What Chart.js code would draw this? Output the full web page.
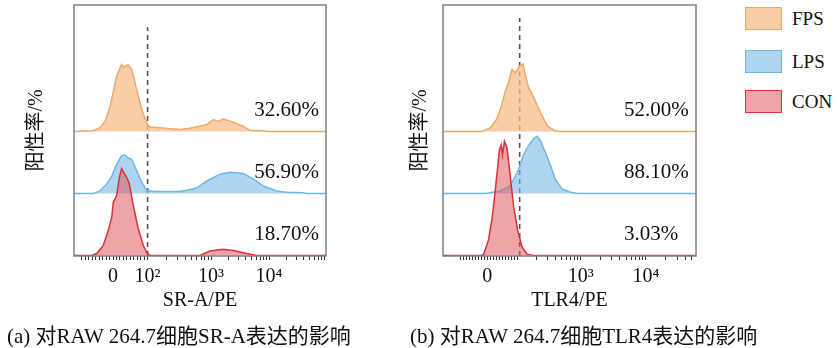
<!DOCTYPE html>
<html lang="zh">
<head>
<meta charset="UTF-8">
<title>SR-A / TLR4</title>
<script src="https://cdn.jsdelivr.net/npm/chart.js"></script>
<style>
  body { margin: 0; background: #fff; width: 838px; height: 348px; position: relative; overflow: hidden; }
  .panel { position: absolute; top: 0; height: 320px; }
  #panelA { left: 0; width: 370px; }
  #panelB { left: 384px; width: 356px; }
  .caption { position: absolute; top: 319px; font: 21px "Liberation Serif", "Noto Sans CJK SC", serif; color: #111; white-space: nowrap; }
  .legend { position: absolute; left: 745px; font: 19px "Liberation Serif", serif; color: #111; }
  .legend .box { position: absolute; left: 0; width: 35px; height: 21px; }
  .legend .lbl { position: absolute; left: 47px; line-height: 23px; }
</style>
</head>
<body>
<div class="panel" id="panelA"><canvas id="chartA"></canvas></div>
<div class="panel" id="panelB"><canvas id="chartB"></canvas></div>
<div class="caption" style="left:7px">(a) 对RAW 264.7细胞SR-A表达的影响</div>
<div class="caption" style="left:410px">(b) 对RAW 264.7细胞TLR4表达的影响</div>
<div class="legend" id="legend"></div>

<script>
// ======= Datos =======
const grupos = ['FPS', 'LPS', 'CON'];
const porcentajesA = ['32.60%', '56.90%', '18.70%'];
const porcentajesB = ['52.00%', '88.10%', '3.03%'];

// posiciones de las marcas (unidades del eje 0-100) y sus etiquetas
const marcasA = [15.5, 29.2, 54.4, 77.4];
const etiquetasA = ['0', '10²', '10³', '10⁴'];
const marcasB = [17.5, 29.4, 54.4, 80.2];
const etiquetasB = ['0', '', '10³', '10⁴'];
const umbralA = 29.2;
const umbralB = 30.3;

// histogramas SR-A/PE
const fpsAx = [0, 7.5, 10.3, 12.3, 14.3, 15.5, 16.9, 18.9, 19.6, 20.2, 21.5, 22.9, 24.9, 26.9, 29.1, 30.2, 36.1, 42.1, 46.0, 52.7, 55.3, 57.3, 59.2, 63.2, 67.2, 69.8, 77.8, 100];
const fpsAy = [0, 1, 6, 16, 40, 62, 89, 108, 104, 105, 108, 100, 67, 35, 11, 7, 5, 3, 5, 11, 19, 16, 20, 15, 8, 2, 0, 0];
const lpsAx = [0, 7.7, 10.3, 13.0, 15.0, 16.9, 18.9, 20.2, 21.5, 22.9, 24.9, 26.9, 28.8, 31.5, 38.1, 42.1, 47.3, 49.2, 52.7, 57.9, 61.9, 67.2, 71.2, 75.1, 80.4, 84.4, 91.0, 92.3, 100];
const lpsAy = [0, 0, 4, 15, 28, 47, 61, 62, 57, 55, 36, 18, 5, 3, 3, 3, 7, 10, 20, 31, 34, 32, 23, 12, 4, 2, 1, 0, 0];
const conAx = [0, 7, 9.0, 11.6, 13.6, 15.0, 15.6, 16.9, 18.0, 18.9, 20.0, 20.9, 21.9, 23.5, 25.5, 27.5, 29.1, 30.2, 50.0, 54.0, 59.2, 63.2, 68.5, 72.5, 100];
const conAy = [0, 0, 3, 16, 40, 62, 86, 96, 126, 140, 132, 126, 116, 81, 43, 16, 3, 0, 0, 7, 10, 8, 3, 0, 0];

// histogramas TLR4/PE
const fpsBx = [0, 15, 16.0, 18.7, 21.3, 23.3, 24.6, 25.9, 27.3, 28.6, 30.3, 31.6, 32.5, 33.8, 35.8, 38.5, 41.2, 44.4, 46, 100];
const fpsBy = [0, 0, 1, 6, 20, 44, 65, 79, 100, 95, 106, 109, 92, 71, 55, 31, 9, 1, 0, 0];
const lpsBx = [0, 17, 18.7, 22.6, 26.6, 29.9, 31.9, 33.8, 35.8, 37.2, 38.5, 40.5, 42.5, 44.4, 47.1, 50.4, 53.1, 100];
const lpsBy = [0, 0, 1, 4, 12, 39, 63, 77, 88, 92, 85, 66, 45, 23, 7, 2, 0, 0];
const conBx = [0, 15, 16.0, 18.0, 19.3, 20.4, 21.5, 22.3, 23.0, 23.5, 24.3, 25.3, 26.6, 27.9, 29.5, 31.2, 33.2, 35.7, 100];
const conBy = [0, 0, 1, 25, 57, 95, 138, 170, 178, 162, 184, 173, 127, 79, 41, 14, 2, 0, 0];

// ======= Estilos =======
const colores = {
    FPS: { borde: '#F0A868', relleno: 'rgba(245,190,140,0.75)' },
    LPS: { borde: '#72B6E4', relleno: 'rgba(120,185,230,0.6)' },
    CON: { borde: '#D8323A', relleno: 'rgba(225,90,95,0.55)' }
};
const desplazamiento = { FPS: 200, LPS: 100, CON: 0 };
const serif = '"Liberation Serif", "Times New Roman", "Noto Sans CJK SC", serif';

function crearDataset(grupo, xs, ys) {
    const base = desplazamiento[grupo];
    return {
        label: grupo,
        data: xs.map((x, i) => ({ x: x, y: base + ys[i] })),
        borderColor: colores[grupo].borde,
        backgroundColor: colores[grupo].relleno,
        borderWidth: 1.5,
        pointRadius: 0,
        tension: 0,
        fill: { value: base }
    };
}

function crearMarcas(pos) {
    // pos: [0, 10^2, 10^3, 10^4]
    const valores = [];
    const lin = (pos[1] - pos[0]) / 10;
    for (let m = -9; m <= 9; m++) valores.push(pos[0] + m * lin);
    const dec = [pos[1], pos[2], pos[3], pos[3] + (pos[3] - pos[2])];
    for (let k = 0; k < 3; k++) {
        const w = dec[k + 1] - dec[k];
        for (let m = 1; m <= 9; m++) valores.push(dec[k] + Math.log10(m) * w);
    }
    valores.push(dec[3]);
    return valores.filter(v => v >= 0 && v <= 100);
}

const marcoPlugin = {
    id: 'marco',
    afterDatasetsDraw(chart, args, opts) {
        const { ctx, chartArea: a, scales } = chart;
        ctx.save();
        // textos de porcentaje
        ctx.fillStyle = '#111';
        ctx.font = '21px ' + serif;
        ctx.textBaseline = 'middle';
        ctx.textAlign = 'left';
        grupos.forEach((g, i) => {
            ctx.fillText(opts.textos[i], scales.x.getPixelForValue(71.5), scales.y.getPixelForValue(desplazamiento[g] + 34));
        });
        // marco
        ctx.strokeStyle = '#808080';
        ctx.lineWidth = 1.5;
        ctx.strokeRect(a.left, a.top, a.right - a.left, a.bottom - a.top);
        ctx.restore();
    }
};

function crearGrafico(id, series, marcas, etiquetas, umbral, topeUmbral, textos, tituloX, anchoY) {
    const valoresMarcas = crearMarcas(marcas);
    const datasets = [
        crearDataset('CON', series[2][0], series[2][1]),
        crearDataset('LPS', series[1][0], series[1][1]),
        crearDataset('FPS', series[0][0], series[0][1]),
        {
            label: 'umbral',
            data: [{ x: umbral, y: -1 }, { x: umbral, y: topeUmbral }],
            borderColor: '#555',
            borderWidth: 1.6,
            borderDash: [5, 4],
            pointRadius: 0,
            fill: false
        }
    ];
    return new Chart(document.getElementById(id), {
        type: 'line',
        data: { datasets: datasets },
        options: {
            responsive: true,
            maintainAspectRatio: false,
            animation: false,
            layout: { padding: { left: 25, right: 44, top: 5, bottom: 0 } },
            plugins: {
                legend: { display: false },
                tooltip: { enabled: false },
                marco: { textos: textos }
            },
            scales: {
                x: {
                    type: 'linear',
                    min: 0,
                    max: 100,
                    afterFit: s => { s.height = 64; },
                    afterBuildTicks: s => { s.ticks = valoresMarcas.map(v => ({ value: v })); },
                    grid: { drawOnChartArea: false, drawTicks: true, tickLength: 4, color: '#333', lineWidth: 1 },
                    border: { display: false },
                    ticks: {
                        autoSkip: false,
                        maxRotation: 0,
                        padding: 5,
                        color: '#111',
                        font: { family: serif, size: 20 },
                        callback: v => {
                            const i = marcas.findIndex(m => Math.abs(m - v) < 0.01);
                            return i >= 0 ? etiquetas[i] : '';
                        }
                    },
                    title: {
                        display: true,
                        text: tituloX,
                        color: '#111',
                        font: { family: serif, size: 20 },
                        padding: { top: 0, bottom: 7 }
                    }
                },
                y: {
                    type: 'linear',
                    min: -1,
                    max: 404,
                    afterFit: s => { s.width = anchoY; },
                    grid: { display: false },
                    border: { display: false },
                    ticks: { display: false },
                    title: {
                        display: true,
                        text: '阳性率/%',
                        color: '#111',
                        font: { family: serif, size: 20 },
                        padding: 0
                    }
                }
            }
        },
        plugins: [marcoPlugin]
    });
}

crearGrafico('chartA',
    [[fpsAx, fpsAy], [lpsAx, lpsAy], [conAx, conAy]],
    marcasA, etiquetasA, umbralA, 368, porcentajesA, 'SR-A/PE', 49);
crearGrafico('chartB',
    [[fpsBx, fpsBy], [lpsBx, lpsBy], [conBx, conBy]],
    marcasB, etiquetasB, umbralB, 383, porcentajesB, 'TLR4/PE', 34);

// ======= Leyenda =======
const leyenda = document.getElementById('legend');
const topes = [7, 50, 90];
grupos.forEach((g, i) => {
    const box = document.createElement('div');
    box.className = 'box';
    box.style.top = topes[i] + 'px';
    box.style.background = colores[g].relleno;
    box.style.border = '1.5px solid ' + colores[g].borde;
    const lbl = document.createElement('div');
    lbl.className = 'lbl';
    lbl.style.top = topes[i] + 'px';
    lbl.textContent = g;
    leyenda.appendChild(box);
    leyenda.appendChild(lbl);
});
</script>
</body>
</html>
